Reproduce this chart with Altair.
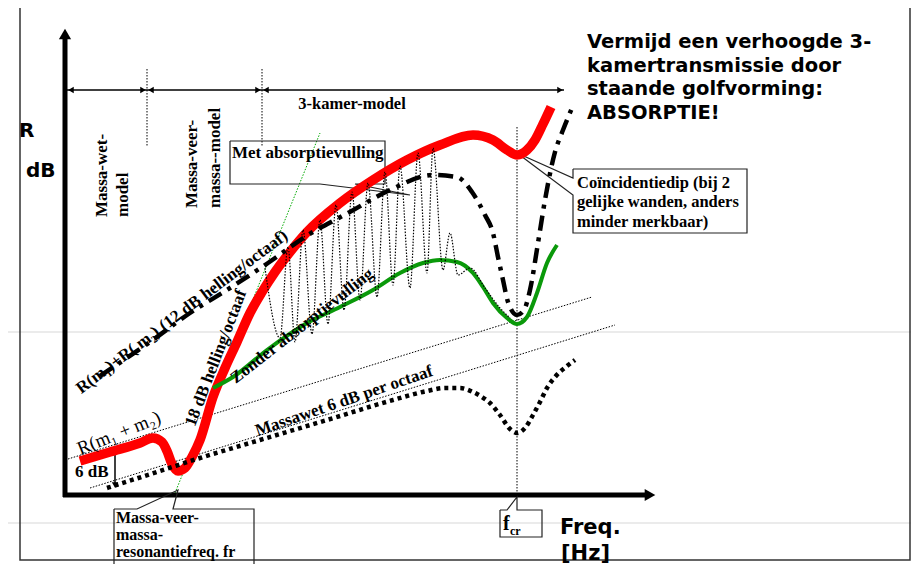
import altair as alt
import pandas as pd

# ---------------- data (schematic: x = frequency position, y = R position, larger y = lower R) ----------------
# thick red curve: R with absorption filling
red_x = [80, 110, 140, 153, 162, 167, 172, 178, 185, 192, 200, 213, 225, 237, 250, 262, 275, 290, 307, 340,
         373, 407, 440, 473, 493, 507, 517, 527, 535, 543, 551]
red_y = [461, 452, 443, 438, 442, 451, 464, 471, 468, 457, 440, 397, 368, 342, 313, 292, 272, 252, 232, 203,
         180, 160, 145, 135, 140, 150, 155, 150, 140, 124, 107]

# green curve: without absorption filling
green_x = [213, 233, 267, 307, 340, 373, 400, 423, 440, 457, 473, 483, 493, 507, 517, 527, 537, 547, 557]
green_y = [388, 377, 350, 323, 307, 290, 273, 263, 260, 262, 273, 287, 303, 318, 324, 317, 293, 263, 245]

# dash-dot: R(m1)+R(m2) 12 dB/octave
dd_x = [100, 150, 190, 230, 268, 308, 348, 390, 433, 457, 472, 485, 493, 498, 503, 508, 517, 524, 530, 538,
        545, 555, 563, 572]
dd_y = [376, 342, 313, 288, 263, 235, 213, 190, 175, 177, 192, 215, 233, 257, 280, 302, 315, 310, 290, 243,
        200, 152, 130, 108]

# thick dotted: mass law 6 dB/octave with coincidence dip
mw_x = [107, 160, 200, 260, 327, 393, 427, 445, 460, 473, 482, 490, 500, 510, 517, 525, 533, 540, 547, 555, 567, 575]
mw_y = [488, 471, 458, 440, 420, 400, 391, 388, 388, 392, 397, 403, 415, 429, 433, 428, 415, 402, 388, 377, 366, 360]

# fine dotted standing-wave oscillation (3-room model)
osc_x = [265, 280, 288, 295, 303, 312, 320, 328, 336, 344, 352, 360, 368, 377, 385, 393, 400, 410, 418, 427,
         433, 443, 450, 458, 470, 485, 500, 510]
osc_y = [268, 338, 247, 342, 230, 334, 220, 324, 205, 310, 192, 300, 183, 297, 172, 285, 166, 288, 153, 273,
         148, 270, 233, 275, 268, 288, 308, 318]

# text contents
title_lines = ["Vermijd een verhoogde 3-", "kamertransmissie door", "staande golfvorming:", "ABSORPTIE!"]
coin_lines = ["Coïncidentiedip (bij 2", "gelijke wanden, anders", "minder merkbaar)"]
reso_lines = ["Massa-veer-", "massa-", "resonantiefreq. fr"]
region_labels = ["Massa-wet-", "model", "Massa-veer-", "massa--model", "3-kamer-model"]
curve_labels = ["R(m₁)+R( m₂) (12 dB helling/octaaf)", "18 dB helling/octaaf", "Zonder absorptievulling",
                "Massawet 6 dB per octaaf", "R(m₁ + m₂)", "6 dB", "Met absorptievulling"]
axis_labels = ["R", "dB", "Freq.", "[Hz]", "f", "cr"]

# ---------------- layout ----------------
W, H = 903, 556
XS = alt.Scale(domain=[8, 911], nice=False, zero=False)
YS = alt.Scale(domain=[8, 564], nice=False, zero=False, reverse=True)
SANS = "DejaVu Sans"
SERIF = "Liberation Serif"


def enc(**kw):
    return dict(x=alt.X('x:Q', scale=XS, axis=None), y=alt.Y('y:Q', scale=YS, axis=None), **kw)


def curve(xs, ys, interp='monotone', **mk):
    df = pd.DataFrame({'x': xs, 'y': ys, 'i': list(range(len(xs)))})
    return alt.Chart(df).mark_line(interpolate=interp, **mk).encode(**enc(order='i:Q'))


def heads(xs, ys, shape, size):
    df = pd.DataFrame({'x': xs, 'y': ys})
    return alt.Chart(df).mark_point(shape=shape, size=size, filled=True, color='black',
                                    opacity=1, strokeWidth=0).encode(**enc())


def txt(s, x, y, size, font=SERIF, weight='bold', angle=0, align='left', baseline='alphabetic'):
    df = pd.DataFrame({'x': [x], 'y': [y], 't': [s]})
    return alt.Chart(df).mark_text(font=font, fontSize=size, fontWeight=weight, angle=angle, align=align,
                                   baseline=baseline, color='black').encode(**enc(text='t:N'))


DOT = [1.5, 1.5]
layers = [
    # faint gray background lines
    curve([0, 919], [332, 332], 'linear', color='#e4e4e4', strokeWidth=1.5),
    curve([0, 919], [523, 523], 'linear', color='#e4e4e4', strokeWidth=1.5),
    # outer frame
    curve([20, 910, 910, 20, 20], [6, 6, 560, 560, 6], 'linear', color='#333333', strokeWidth=1.5),
    # thin dotted reference lines
    curve([68, 592], [459, 297], 'linear', color='black', strokeWidth=1, strokeDash=DOT),
    curve([90, 615], [488, 325], 'linear', color='black', strokeWidth=1, strokeDash=DOT),
    curve([517, 517], [127, 495], 'linear', color='black', strokeWidth=1, strokeDash=DOT),
    curve([147, 147], [69, 147], 'linear', color='black', strokeWidth=1, strokeDash=DOT),
    curve([262, 262], [69, 147], 'linear', color='black', strokeWidth=1, strokeDash=DOT),
    curve([175, 320], [493, 133], 'linear', color='#00aa00', strokeWidth=1, strokeDash=DOT),
    # region arrows
    curve([67, 564], [90, 90], 'linear', color='black', strokeWidth=1.5),
    heads([71], [90], 'triangle-left', 40),
    heads([143, 258, 560], [90, 90, 90], 'triangle-right', 40),
    heads([151, 266], [90, 90], 'triangle-left', 40),
    # 6 dB arrow
    curve([115, 115], [451, 483], 'linear', color='black', strokeWidth=1.5),
    heads([115], [450], 'triangle-up', 40),
    heads([115], [485], 'triangle-down', 40),
    # axes
    curve([65, 65], [38, 497], 'linear', color='black', strokeWidth=5),
    curve([63, 646], [495, 495], 'linear', color='black', strokeWidth=5),
    heads([65], [34], 'triangle-up', 150),
    heads([650], [495], 'triangle-right', 150),
    # callout boxes
    curve([230, 385, 385, 355, 410, 320, 230, 230], [141, 141, 184, 184, 195, 184, 184, 141], 'linear',
          color='#222222', strokeWidth=1.2),
    curve([573, 747, 747, 573, 573, 517, 573, 573], [169, 169, 233, 233, 195, 153, 178, 169], 'linear',
          color='#222222', strokeWidth=1.2),
    curve([114, 137, 178, 173, 254, 254, 114, 114], [509, 509, 490, 509, 509, 580, 580, 509], 'linear',
          color='#222222', strokeWidth=1.2),
    curve([500, 507, 517, 517, 542, 542, 500, 500], [510, 510, 497, 510, 510, 537, 537, 510], 'linear',
          color='#222222', strokeWidth=1.2),
    # curves
    curve(red_x, red_y, color='#ff0000', strokeWidth=9.5, strokeCap='butt'),
    curve(green_x, green_y, color='#0a990a', strokeWidth=4),
    curve(osc_x, osc_y, color='black', strokeWidth=1.2, strokeDash=DOT),
    curve(dd_x, dd_y, color='black', strokeWidth=4.5, strokeDash=[15, 7, 4, 7], strokeCap='butt'),
    curve(mw_x, mw_y, color='black', strokeWidth=4.5, strokeDash=[4, 4], strokeCap='butt'),
    # texts: sans
    txt(axis_labels[0], 19, 137, 20, font=SANS),
    txt(axis_labels[1], 26, 177, 20, font=SANS),
    txt(axis_labels[2], 560, 534, 21, font=SANS),
    txt(axis_labels[3], 561, 560, 21, font=SANS),
]
for line, yb in zip(title_lines, [48, 72, 95, 119]):
    layers.append(txt(line, 587, yb, 19.5, font=SANS))
for line, yb in zip(coin_lines, [188, 207, 227]):
    layers.append(txt(line, 577, yb, 16.5))
for line, yb in zip(reso_lines, [523, 540, 557]):
    layers.append(txt(line, 116, yb, 16))
layers += [
    txt(region_labels[0], 102, 217, 17, angle=270, baseline='middle'),
    txt(region_labels[1], 123, 217, 17, angle=270, baseline='middle'),
    txt(region_labels[2], 192, 208, 17, angle=270, baseline='middle'),
    txt(region_labels[3], 215, 208, 17, angle=270, baseline='middle'),
    txt(region_labels[4], 352, 109, 16.5, align='center'),
    txt(curve_labels[0], 182, 312, 17, angle=323, align='center', baseline='middle'),
    txt(curve_labels[1], 216, 358, 17, angle=291, align='center', baseline='middle'),
    txt(curve_labels[2], 302, 326, 17, angle=322, align='center', baseline='middle'),
    txt(curve_labels[3], 344, 401, 17, angle=341, align='center', baseline='middle'),
    txt(curve_labels[4], 119, 433, 19, weight='normal', angle=338, align='center', baseline='middle'),
    txt(curve_labels[5], 75, 477, 17),
    txt(curve_labels[6], 232, 158, 17),
    txt(axis_labels[4], 503, 530, 20),
    txt(axis_labels[5], 510, 535, 12),
]

chart = alt.layer(*layers).properties(
    width=W, height=H, autosize=alt.AutoSizeParams(type='none'), padding=0, background='white'
).configure_view(strokeWidth=0)

chart.save("out.html", embed_options={"renderer": "svg", "actions": False})
